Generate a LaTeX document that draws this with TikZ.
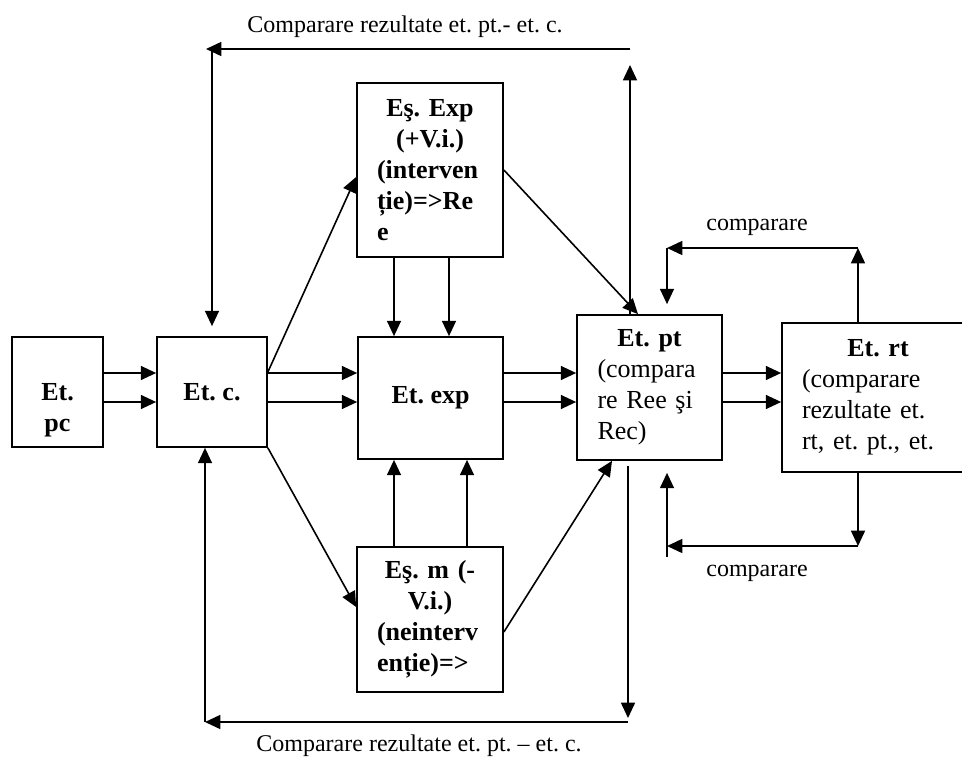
\documentclass[tikz,border=0pt]{standalone}
\usepackage{fontspec}
\setmainfont{Liberation Serif}
\usetikzlibrary{arrows.meta}
\newcommand\stagefont{\fontsize{19.5pt}{23.25pt}\selectfont\frenchspacing}
\newcommand\notefont{\fontsize{18pt}{21pt}\selectfont\frenchspacing}
% a line centred across the whole text column of a box
\newcommand\midline[1]{\makebox[\hsize][c]{#1}}
\begin{document}
\begin{tikzpicture}[x=0.75pt,y=-0.75pt,
  box/.style={draw, line width=1.3pt, inner sep=0pt, align=center, font=\stagefont},
  arr/.style={line width=1.2pt, -{Triangle[length=11.5pt,width=10.5pt]}},
  note/.style={font=\notefont, inner sep=0pt}]
\useasboundingbox (0,0) rectangle (962,757);

% stages
\node[box, minimum width=68.25pt, minimum height=82.5pt, font=\stagefont\bfseries] (pc) at (57.5,392)
  {\rule{0pt}{40pt}Et.\\pc};
\node[box, minimum width=82.5pt, minimum height=82.5pt, font=\stagefont\bfseries] (c) at (212,392) {Et. c.};
\node[box, minimum width=109.5pt, minimum height=130.5pt, text width=79.5pt, align=left, font=\stagefont\bfseries] (Exp) at (430,170)
  {\midline{Eş. Exp}\\\midline{(+V.i.)}\\(interven\\ție)=>Re\\e};
\node[box, minimum width=108.75pt, minimum height=91.5pt, font=\stagefont\bfseries] (exp) at (430.5,398) {Et. exp};
\node[box, minimum width=109.5pt, minimum height=108.75pt, text width=79.5pt, align=left, font=\stagefont\bfseries] (m) at (430,619.5)
  {\midline{Eş. m (-}\\\midline{V.i.)}\\(neinterv\\enție)=>};
\node[box, minimum width=108.75pt, minimum height=108.75pt, text width=78pt, align=left] (pt) at (649.5,387.5)
  {\midline{\bfseries Et. pt}\\(compara\\re Ree şi\\Rec)};
\begin{scope}
  \clip (0,0) rectangle (962,757);
  \node[box, minimum width=144pt, minimum height=111.75pt, text width=114pt, align=left] (rt) at (878,397.5)
    {\midline{\bfseries Et. rt}\\(comparare\\rezultate et.\\rt, et. pt., et.};
\end{scope}

% labels
\node[note] (ltop) at (405,27) {Comparare rezultate et. pt.- et. c.};
\node[note] (lbot) at (419,746) {Comparare rezultate et. pt. – et. c.};
\node[note] (lrtop) at (757,227) {comparare};
\node[note] (lrbot) at (757,573) {comparare};

% corner points of the feedback loops
\coordinate (topL) at (206,49);
\coordinate (topR) at (630,49);
\coordinate (topLv) at (212,49);
\coordinate (botL) at (205,722);
\coordinate (botR) at (628,722);
\coordinate (rtUp) at (858,248);
\coordinate (ptUp) at (667,248);
\coordinate (rtDn) at (858,546);
\coordinate (ptDn) at (667,546);
\coordinate (ptDnTail) at (667,557);

% forward flow
\foreach \yy in {373,402}{
  \draw[arr] (pc.east |- 0,\yy) -- (c.west |- 0,\yy);
  \draw[arr] (c.east |- 0,\yy) -- (exp.west |- 0,\yy);
  \draw[arr] (exp.east |- 0,\yy) -- (pt.west |- 0,\yy);
  \draw[arr] (pt.east |- 0,\yy) -- (rt.west |- 0,\yy);
}
\foreach \xx in {394,449}{
  \draw[arr] (Exp.south -| \xx,0) -- (exp.north -| \xx,0);
}
\foreach \xx in {394,467}{
  \draw[arr] (m.north -| \xx,0) -- (exp.south -| \xx,0);
}
\draw[arr] (c.east |- 0,372) -- (Exp.west |- 0,177);
\draw[arr] (c.south east) -- (m.west |- 0,607);
\draw[arr] (Exp.east |- 0,170) -- (pt.north -| 638,0);
\draw[arr] (m.east |- 0,632) -- (pt.south -| 612,0);

% upper comparison loop
\draw[arr, shorten >=12pt] (pt.north -| 630,0) -- (topR);
\draw[arr] (topR) -- (topL);
\draw[arr, shorten >=7.5pt] (topLv) -- (c.north);

% lower comparison loop
\draw[arr, shorten <=3.75pt, shorten >=3pt] (pt.south -| 628,0) -- (botR);
\draw[arr] (botR) -- (botL);
\draw[arr] (botL) -- (c.south -| botL);

% right-hand comparisons
\draw[arr] (rt.north -| rtUp) -- (rtUp);
\draw[arr] (rtUp) -- (ptUp);
\draw[arr, shorten >=7.5pt] (ptUp) -- (pt.north -| ptUp);
\draw[arr] (rt.south -| rtDn) -- (rtDn);
\draw[arr] (rtDn) -- (ptDn);
\draw[arr, shorten >=9pt] (ptDnTail) -- (pt.south -| ptDnTail);
\end{tikzpicture}
\end{document}
